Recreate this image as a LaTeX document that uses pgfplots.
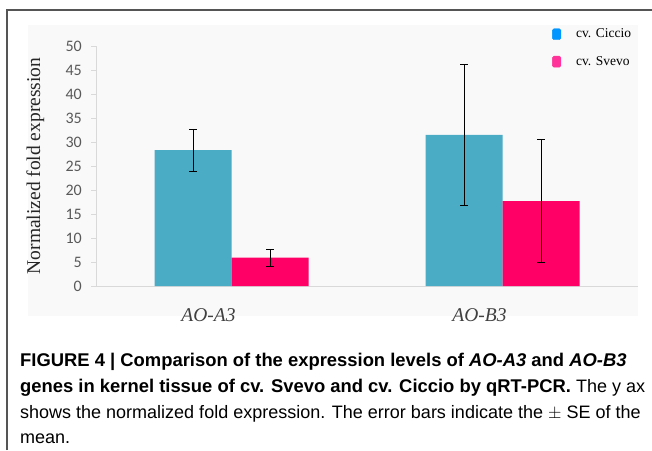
\documentclass[border=0pt]{standalone}
\usepackage{fontspec}
\setmainfont{Liberation Serif}
\newfontfamily\carlito{Carlito}
\newfontfamily\capfont{Liberation Sans}
\usepackage{pgfplots}
\pgfplotsset{compat=1.18}
\definecolor{barblue}{HTML}{4BACC6}
\definecolor{barpink}{HTML}{FF0066}
\definecolor{legblue}{HTML}{0096FF}
\definecolor{legpink}{HTML}{FF3399}
\definecolor{panel}{HTML}{F9F9F9}
\definecolor{axgray}{HTML}{D9D9D9}
\definecolor{tickgray}{HTML}{595959}
\definecolor{frame}{HTML}{555555}
\newcommand\capbold{\capfont\fontsize{18.4}{18.4}\selectfont\bfseries}
\newcommand\capreg{\capfont\fontsize{18}{18}\selectfont\mdseries}
\begin{document}
\begin{tikzpicture}[x=1pt,y=1pt]
\useasboundingbox (0,0) rectangle (652,450);
\fill[white] (0,0) rectangle (652,450);
\draw[frame, line width=1.4pt] (7,0) -- (7,440) -- (652,440);
\fill[panel] (28,134) rectangle (638,425);
\begin{axis}[
  at={(96pt,164pt)}, anchor=south west,
  scale only axis, width=542pt, height=240pt,
  xmin=-0.5, xmax=1.5, ymin=0, ymax=50,
  axis x line*=bottom, axis y line*=left,
  axis line style={draw=axgray, line width=1pt, -},
  xtick={0,1}, xticklabels={\textit{AO-A3},\textit{AO-B3}},
  xtick style={draw=none},
  xticklabel style={anchor=base, yshift=-30pt, xshift=-23pt, font=\fontsize{19.5}{20}\selectfont, text=black!75},
  ytick={0,5,...,50},
  ytick style={draw=axgray, line width=0.8pt},
  tick align=outside, major tick length=5pt,
  /pgf/number format/assume math mode=true,
  yticklabel style={anchor=east, inner sep=0pt, xshift=-9pt, font=\carlito\fontsize{16}{16}\selectfont, text=tickgray},
  ylabel={Normalized fold expression},
  ylabel style={at={(axis description cs:-0.1033,0.5)}, anchor=base, font=\fontsize{19.5}{20}\selectfont, text=black!85},
  ybar, bar width=77pt,
  legend style={at={(axis description cs:0.8413,1.08)}, anchor=north west, draw=none, fill=none,
    font=\fontsize{13.5}{13.5}\selectfont, row sep=13pt, column sep=13pt, inner sep=0pt},
  legend cell align=left,
  clip=false,
]
\addplot[forget plot, fill=barblue, draw=none, bar shift=-38.5pt,
  error bars/.cd, y dir=both, y explicit,
  error bar style={black, line width=0.8pt},
  error mark options={rotate=90, black, mark size=4pt, line width=0.8pt}]
  coordinates {(0,28.3) +- (0,4.4) (1,31.5) +- (0,14.7)};
\addplot[forget plot, fill=barpink, draw=none, bar shift=38.5pt,
  error bars/.cd, y dir=both, y explicit,
  error bar style={black, line width=0.8pt},
  error mark options={rotate=90, black, mark size=4pt, line width=0.8pt}]
  coordinates {(0,5.9) +- (0,1.8) (1,17.7) +- (0,12.8)};
\addlegendimage{legend image code/.code={\fill[legblue, rounded corners=1.5pt] (0pt,-5.5pt) rectangle (8.5pt,5.5pt);}}
\addlegendentry{cv. Ciccio}
\addlegendimage{legend image code/.code={\fill[legpink, rounded corners=1.5pt] (0pt,-5.5pt) rectangle (8.5pt,5.5pt);}}
\addlegendentry{cv. Svevo}
\end{axis}
\node[anchor=base west, inner sep=0pt] at (20,84)
  {\capbold FIGURE 4 | Comparison of the expression levels of \textit{AO-A3} and \textit{AO-B3}};
\node[anchor=base west, inner sep=0pt] at (20,58)
  {\capbold genes in kernel tissue of cv. Svevo and cv. Ciccio by qRT-PCR. {\capreg The y ax}};
\node[anchor=base west, inner sep=0pt] at (20,32)
  {\capreg shows the normalized fold expression. The error bars indicate the $\pm$ SE of the};
\node[anchor=base west, inner sep=0pt] at (20,7)
  {\capreg mean.};
\end{tikzpicture}
\end{document}
